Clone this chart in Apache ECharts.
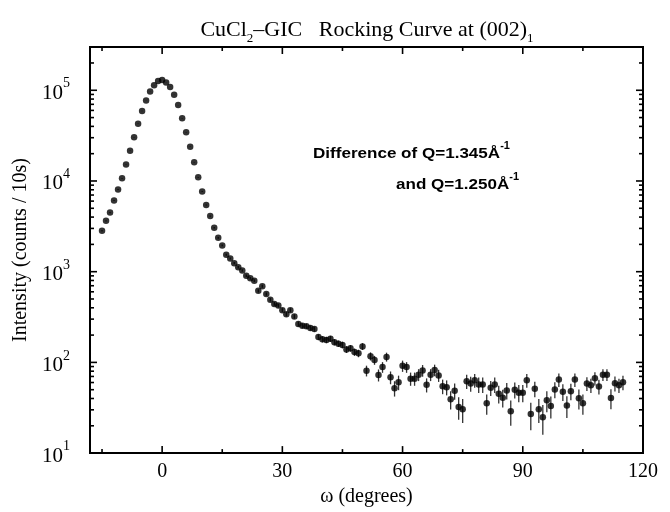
<!DOCTYPE html>
<html><head><meta charset="utf-8">
<script src="https://cdn.jsdelivr.net/npm/echarts@6/dist/echarts.min.js"></script>
<style>html,body{margin:0;padding:0;background:#fff}#c{width:670px;height:512px}</style>
</head><body><div id="c"></div>
<script>
// ---- data ----
const omega = [-15,-14,-13,-12,-11,-10,-9,-8,-7,-6,-5,-4,-3,-2,-1,
  0,1,2,3,4,5,6,7,8,9,10,
  11,12,13,14,15,16,17,18,19,20,
  21,22,23,24,25,26,27,28,29,30,
  31,32,33,34,35,36,37,38,39,40,
  41,42,43,44,45,46,47,48,49,50,
  51,52,53,54,55,56,57,58,59,60,
  61,62,63,64,65,66,67,68,69,70,
  71,72,73,74,75,76,77,78,79,80,
  81,82,83,84,85,86,87,88,89,90,
  91,92,93,94,95,96,97,98,99,100,
  101,102,103,104,105,106,107,108,109,110,
  111,112,113,114,115];
const intensity = [2830,3640,4480,6110,8050,10700,15200,21500,30400,42700,59100,77300,96800,113300,126500,
  129800,122200,108900,89100,68700,49200,34400,23800,16100,10960,7660,
  5430,4100,3050,2360,1950,1540,1400,1240,1120,1030,
  902,845,796,615,692,566,491,441,423,376,
  340,376,321,265,254,250,240,233,190,180,
  177,182,167,161,156,139,143,130,126,150,
  81,117,106,72.6,88.7,115,68.4,52,60.4,91.6,
  88.7,66.2,66.2,73.2,81.5,56.6,73.2,82.4,71.9,54.6,
  53.3,39.2,48.7,32.3,30.5,61.9,58.5,63.5,57,57,
  35.4,52.5,57,45.2,40.8,49.1,29,49.9,46.3,46.3,
  63.5,26.9,51.2,30.5,24.9,38.2,33.1,50.3,64.6,47.5,
  33.4,48.2,64.6,40.2,35.4,58.5,56,66.7,54.2,73.2,
  73.2,40.5,58.9,56,60.4];
const errors = [55,60,67,78,90,105,125,145,175,205,245,280,310,335,355,
  360,350,330,300,260,220,185,155,125,105,88,
  74,64,55,49,44,40,37,35,34,32,
  30,29,28,25,26,24,22,21,21,20,
  19,20,18,17,16,16,16,15,14,14,
  14,14,13,13,13,12,12,12,12,13,
  11,12,12,11,12,13,11,10,11,13,
  12,11,11,11,12,10,11,12,11,10,
  10,9,10,9,9,11,11,11,11,11,
  9,10,11,10,9,10,9,10,10,10,
  11,9,10,9,9,10,9,10,11,10,
  9,10,11,10,9,10,10,11,10,11,
  11,10,11,10,11];
const xLabelValues = [0,30,60,90,120];
const xMinorTicks = [-15,15,45,75,105];
const yLabelValues = [10,100,1000,10000,100000];
const yMinorTicks = [20,30,40,50,60,70,80,90,200,300,400,500,600,700,800,900,
  2000,3000,4000,5000,6000,7000,8000,9000,20000,30000,40000,50000,60000,70000,80000,90000,
  200000,300000];

// ---- chart ----
const X_MIN = -18, X_MAX = 120, Y_MIN = 10, Y_MAX = 300000;
const MAJOR_LEN = 7, MINOR_LEN = 4;
const serif = "'Liberation Serif','Times New Roman',serif";
const sans = "'Liberation Sans',Arial,sans-serif";

const points = omega.map((w, i) => [w, intensity[i]]);
const bars = omega.map((w, i) => [w, intensity[i], errors[i]]);
const xTickData = xLabelValues.map(v => [v, Y_MIN, 0]).concat(xMinorTicks.map(v => [v, Y_MIN, 1]));
const yTickData = yLabelValues.map(v => [X_MIN, v, 0]).concat(yMinorTicks.map(v => [X_MIN, v, 1]));

const annRich = {
  m: { fontFamily: sans, fontSize: 15.5, fontWeight: 'bold', fill: '#000', lineHeight: 21, verticalAlign: 'bottom' },
  sup: { fontFamily: sans, fontSize: 10, fontWeight: 'bold', fill: '#000', lineHeight: 10, verticalAlign: 'top' }
};

const chart = echarts.init(document.getElementById('c'));
chart.setOption({
  animation: false,
  backgroundColor: '#fff',
  title: {
    text: '{m|CuCl}{sub|2}{m|–GIC   Rocking Curve at (002)}{sub|1}',
    left: 362, top: 14, textAlign: 'center',
    textStyle: {
      fontFamily: serif, fontSize: 22, fontWeight: 'normal', color: '#000',
      rich: {
        m: { fontFamily: serif, fontSize: 22, lineHeight: 22, color: '#000', verticalAlign: 'top' },
        sub: { fontFamily: serif, fontSize: 13, lineHeight: 26, color: '#000', verticalAlign: 'bottom' }
      }
    }
  },
  grid: { left: 90, right: 27, top: 47, bottom: 53, show: true, borderColor: '#000', borderWidth: 2, backgroundColor: 'transparent' },
  xAxis: {
    type: 'value', min: X_MIN, max: X_MAX,
    axisLine: { show: false }, axisTick: { show: false }, splitLine: { show: false },
    axisLabel: { customValues: xLabelValues, fontFamily: serif, fontSize: 20, color: '#000', margin: 9 },
    name: 'ω (degrees)', nameLocation: 'middle', nameGap: 29,
    nameTextStyle: { fontFamily: serif, fontSize: 20, color: '#000' }
  },
  yAxis: {
    type: 'log', logBase: 10, min: Y_MIN, max: Y_MAX,
    axisLine: { show: false }, axisTick: { show: false }, splitLine: { show: false },
    axisLabel: {
      customValues: yLabelValues, margin: 20,
      formatter: v => '{b|10}{s|' + Math.round(Math.log10(v)) + '}',
      rich: {
        b: { fontFamily: serif, fontSize: 21, lineHeight: 27, color: '#000', verticalAlign: 'bottom' },
        s: { fontFamily: serif, fontSize: 14, lineHeight: 14, color: '#000', verticalAlign: 'top' }
      }
    },
    name: 'Intensity (counts / 10s)', nameLocation: 'middle', nameGap: 54,
    nameTextStyle: { fontFamily: serif, fontSize: 20, color: '#000' }
  },
  graphic: [
    { type: 'text', x: 313, y: 141, scaleX: 1.1, silent: true,
      style: { text: '{m|Difference of Q=1.345Å}{sup|-1}', fontFamily: sans, fontSize: 15.5, fontWeight: 'bold', fill: '#000', rich: annRich } },
    { type: 'text', x: 396, y: 172, scaleX: 1.1, silent: true,
      style: { text: '{m|and Q=1.250Å}{sup|-1}', fontFamily: sans, fontSize: 15.5, fontWeight: 'bold', fill: '#000', rich: annRich } }
  ],
  series: [
    {
      type: 'custom', name: 'errors', data: bars, encode: { x: 0, y: 1 }, z: 2, silent: true, clip: false,
      renderItem: (params, api) => {
        const w = api.value(0), v = api.value(1), e = api.value(2);
        const lo = Math.max(v - e, Y_MIN), hi = v + e;
        const p1 = api.coord([w, lo]), p2 = api.coord([w, hi]);
        return { type: 'line', shape: { x1: p1[0], y1: p1[1], x2: p2[0], y2: p2[1] }, style: { stroke: '#333', lineWidth: 1.3 } };
      }
    },
    {
      type: 'scatter', data: points, symbol: 'circle', symbolSize: 6.5, z: 3, silent: true,
      itemStyle: { color: '#000' }
    },
    {
      type: 'custom', name: 'xticks', data: xTickData, encode: { x: 0, y: 1 }, z: 4, silent: true, clip: false,
      renderItem: (params, api) => {
        const w = api.value(0), len = api.value(2) === 0 ? MAJOR_LEN : MINOR_LEN;
        const b = api.coord([w, Y_MIN]), t = api.coord([w, Y_MAX]);
        return { type: 'group', children: [
          { type: 'line', shape: { x1: b[0], y1: b[1], x2: b[0], y2: b[1] - len }, style: { stroke: '#000', lineWidth: 1.6 } },
          { type: 'line', shape: { x1: t[0], y1: t[1], x2: t[0], y2: t[1] + len }, style: { stroke: '#000', lineWidth: 1.6 } }
        ] };
      }
    },
    {
      type: 'custom', name: 'yticks', data: yTickData, encode: { x: 0, y: 1 }, z: 4, silent: true, clip: false,
      renderItem: (params, api) => {
        const v = api.value(1), len = api.value(2) === 0 ? MAJOR_LEN : MINOR_LEN;
        const l = api.coord([X_MIN, v]), r = api.coord([X_MAX, v]);
        return { type: 'group', children: [
          { type: 'line', shape: { x1: l[0], y1: l[1], x2: l[0] + len, y2: l[1] }, style: { stroke: '#000', lineWidth: 1.6 } },
          { type: 'line', shape: { x1: r[0], y1: r[1], x2: r[0] - len, y2: r[1] }, style: { stroke: '#000', lineWidth: 1.6 } }
        ] };
      }
    }
  ]
});
</script>
</body></html>
